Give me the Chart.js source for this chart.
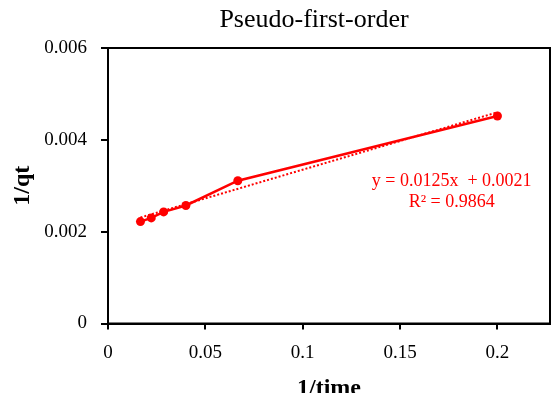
<!DOCTYPE html>
<html>
<head>
<meta charset="utf-8">
<script src="https://cdn.jsdelivr.net/npm/chart.js@4.4.1/dist/chart.umd.min.js"></script>
<style>
  html, body { margin: 0; padding: 0; background: #fff; overflow: hidden; }
  #wrap { width: 556px; height: 403px; }
</style>
</head>
<body>
<div id="wrap"><canvas id="chart"></canvas></div>
<script>
// 1/time vs 1/qt (pseudo-first-order fit)
const invTime = [0.01667, 0.02222, 0.02857, 0.04, 0.06667, 0.2];
const invQt = [0.00222, 0.0023, 0.00243, 0.00257, 0.00311, 0.00452];

// linear trendline as reported on the chart
const slope = 0.0125;
const intercept = 0.0021;
const rSquared = 0.9864;

const xTicks = [0, 0.05, 0.1, 0.15, 0.2];
const yTicks = [0, 0.002, 0.004, 0.006];

const RED = '#ff0000';
const SERIF = '"Liberation Serif", "Times New Roman", serif';

const points = invTime.map((x, i) => ({ x: x, y: invQt[i] }));
const xFirst = invTime[0];
const xLast = invTime[invTime.length - 1];
const trend = [
    { x: xFirst, y: slope * xFirst + intercept },
    { x: xLast, y: slope * xLast + intercept }
];

const fmt = v => String(parseFloat(Number(v).toFixed(4)));

// frame around the plot area, title and equation text
const extras = {
    id: 'extras',
    afterDraw(chart) {
        const ctx = chart.ctx;
        const a = chart.chartArea;
        ctx.save();
        ctx.strokeStyle = '#000';
        ctx.lineWidth = 2;
        ctx.strokeRect(a.left, a.top, a.right - a.left, a.bottom - a.top);

        ctx.fillStyle = '#000';
        ctx.font = '26px ' + SERIF;
        ctx.textAlign = 'center';
        ctx.textBaseline = 'middle';
        ctx.fillText('Pseudo-first-order', 314, 20);

        const xs = chart.scales.x, ys = chart.scales.y;
        const tx = xs.getPixelForValue(0.1765);
        const ty = ys.getPixelForValue(0.0031);
        ctx.fillStyle = RED;
        ctx.font = '18px ' + SERIF;
        ctx.fillText('y = ' + slope + 'x  + ' + intercept, tx, ty);
        ctx.fillText('R² = ' + rSquared, tx, ty + 21);
        ctx.restore();
    }
};

new Chart(document.getElementById('chart'), {
    type: 'scatter',
    data: {
        datasets: [
            {
                label: '1/qt',
                data: points,
                showLine: true,
                borderColor: RED,
                backgroundColor: RED,
                borderWidth: 2.5,
                pointRadius: 4.5,
                pointBorderWidth: 0,
                pointBackgroundColor: RED
            },
            {
                label: 'Linear',
                data: trend,
                showLine: true,
                borderColor: RED,
                borderWidth: 2,
                borderDash: [2, 2],
                pointRadius: 0
            }
        ]
    },
    options: {
        responsive: true,
        maintainAspectRatio: false,
        animation: false,
        layout: { padding: { top: 48, right: 6, left: 0, bottom: 0 } },
        plugins: {
            legend: { display: false },
            tooltip: { enabled: false }
        },
        scales: {
            x: {
                type: 'linear',
                min: 0,
                max: 0.227,
                afterFit: s => { s.height = 79.5; },
                afterBuildTicks: s => { s.ticks = xTicks.map(v => ({ value: v })); },
                border: { display: true, color: '#000', width: 2 },
                grid: { drawOnChartArea: false, drawTicks: true, tickLength: 6, tickColor: '#000', lineWidth: 2 },
                ticks: {
                    color: '#000',
                    font: { family: SERIF, size: 19 },
                    padding: 12,
                    maxRotation: 0,
                    callback: v => fmt(v)
                },
                title: {
                    display: true,
                    text: '1/time',
                    color: '#000',
                    font: { family: SERIF, size: 24, weight: 'bold' },
                    padding: { top: 0, bottom: 0 }
                }
            },
            y: {
                type: 'linear',
                min: 0,
                max: 0.006,
                afterFit: s => { s.width = 108; },
                afterBuildTicks: s => { s.ticks = yTicks.map(v => ({ value: v })); },
                border: { display: true, color: '#000', width: 2 },
                grid: { drawOnChartArea: false, drawTicks: true, tickLength: 7, tickColor: '#000', lineWidth: 2 },
                ticks: {
                    color: '#000',
                    font: { family: SERIF, size: 19 },
                    padding: 14,
                    callback: v => fmt(v)
                },
                title: {
                    display: true,
                    text: '1/qt',
                    color: '#000',
                    font: { family: SERIF, size: 24, weight: 'bold' },
                    padding: { top: 8, bottom: 0 }
                }
            }
        }
    },
    plugins: [extras]
});
</script>
</body>
</html>
